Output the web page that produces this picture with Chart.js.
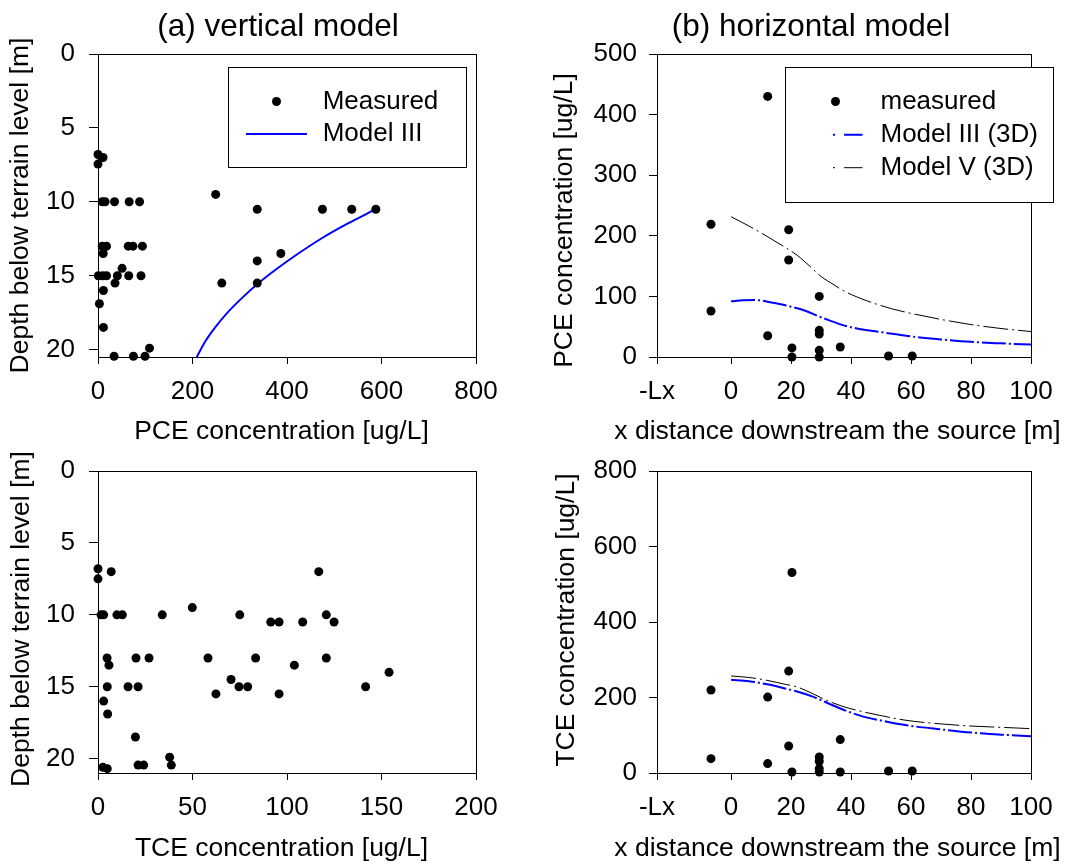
<!DOCTYPE html>
<html><head><meta charset="utf-8">
<script src="https://cdn.jsdelivr.net/npm/chart.js@4/dist/chart.umd.min.js"></script>
<style>
html,body{margin:0;padding:0;background:#fff;}
#wrap{position:relative;width:1069px;height:865px;overflow:hidden;background:#fff;}
.layer{position:absolute;left:0;top:0;}
.ptitle{position:absolute;font-family:"Liberation Sans",Arial,sans-serif;font-size:31.5px;color:#000;white-space:nowrap;transform:translate(-50%,-50%);line-height:1;}
</style></head><body>
<div id="wrap">
<canvas id="cTL" class="layer" width="1069" height="865"></canvas>
<canvas id="cTR" class="layer" width="1069" height="865"></canvas>
<canvas id="cBL" class="layer" width="1069" height="865"></canvas>
<canvas id="cBR" class="layer" width="1069" height="865"></canvas>
<div class="ptitle" style="left:278px;top:26px">(a) vertical model</div>
<div class="ptitle" style="left:811px;top:26px">(b) horizontal model</div>
</div>
<script>
// ---------- data ----------
// (a) vertical model, PCE
const pceVertConc  = [0, 0, 10.6, 9, 15, 35, 66, 88, 249, 337, 475, 537, 588, 9, 18, 64, 74, 94, 11, 387, 337, 51, 0.7, 10, 18, 41, 65, 91, 36, 262, 337, 11.5, 3, 11.5, 109, 34, 75, 99.5];
const pceVertDepth = [6.8, 7.45, 7.0, 10, 10, 10, 10, 10, 9.5, 10.5, 10.5, 10.5, 10.5, 13, 13, 13, 13, 13, 13.5, 13.5, 14, 14.5, 15, 15, 15, 15, 15, 15, 15.5, 15.5, 15.5, 16, 16.9, 18.5, 19.9, 20.45, 20.45, 20.45];
const pceModelIIIConc  = [209, 226, 248, 274, 305, 340, 380, 424, 472, 527, 588];
const pceModelIIIDepth = [20.5, 19.5, 18.5, 17.5, 16.5, 15.5, 14.5, 13.5, 12.5, 11.5, 10.5];
// (a) vertical model, TCE
const tceVertConc  = [0, 0, 7, 116.8, 1.6, 3, 10, 12.9, 34, 49.9, 75, 91.4, 95.8, 108.3, 120.8, 124.9, 4.8, 5.8, 20.1, 27, 58.2, 83.4, 120.8, 103.9, 154, 70.4, 4.9, 15.9, 21.2, 74.6, 79.2, 141.6, 62.4, 95.8, 3, 5.1, 19.8, 37.9, 38.8, 21.2, 24.2, 2.6, 4.9];
const tceVertDepth = [6.8, 7.5, 7.0, 7.0, 10, 10, 10, 10, 10, 9.5, 10, 10.5, 10.5, 10.5, 10, 10.5, 13, 13.5, 13, 13, 13, 13, 13, 13.5, 14, 14.5, 15, 15, 15, 15, 15, 15, 15.5, 15.5, 16, 16.9, 18.5, 19.9, 20.45, 20.45, 20.45, 20.6, 20.7];
// (b) horizontal model, PCE
const pceHorX = [-6.7, -6.7, 12.2, 12.2, 19.2, 19.2, 20.3, 20.3, 29.4, 29.4, 29.4, 29.4, 29.4, 36.4, 52.5, 60.4];
const pceHorY = [219, 76, 430, 35, 210, 160, 15, 0, 100, 44, 38, 11, 0, 16.5, 1.7, 1.7];
const pceM3X = [0, 4, 8, 14, 20, 25, 29, 33, 37, 42, 48, 55, 60, 70, 80, 90, 100];
const pceM3Y = [92, 93.5, 94, 89.5, 83, 76, 67.5, 60, 53, 47, 42.5, 37.5, 34, 29, 25, 22.5, 20.5];
const pceM5X = [0, 6, 12, 18, 22, 26, 30, 34, 38, 42, 48, 54, 60, 70, 80, 90, 100];
const pceM5Y = [231.5, 216, 199, 181, 168, 151, 133, 120, 108, 99, 88, 79, 72, 62, 53.5, 47, 42];
// (b) horizontal model, TCE
const tceHorX = [-6.7, -6.7, 12.2, 12.2, 19.2, 19.2, 20.3, 20.3, 29.4, 29.4, 29.4, 29.4, 36.4, 36.4, 52.5, 60.4];
const tceHorY = [220, 38, 201, 25, 270, 71.5, 531, 2.5, 42.4, 31, 11.6, 2.7, 88.5, 2.7, 5.3, 5.3];
const tceM3X = [0, 6, 12, 18, 22, 27, 32, 37, 43, 50, 58, 70, 81, 90, 100];
const tceM3Y = [247, 243, 235, 224, 216, 203, 186, 169, 152, 139, 127, 115.5, 106.5, 101.5, 97.5];
const tceM5X = [0, 6, 12, 18, 22, 27, 32, 37, 43, 50, 58, 70, 81, 90, 100];
const tceM5Y = [257, 253, 245.5, 235, 228, 211, 192, 177, 164, 152, 140, 130, 124, 121, 117.5];

// ticks
const depthTicks = [0, 5, 10, 15, 20];
const pceVertTicks = [0, 200, 400, 600, 800];
const tceVertTicks = [0, 50, 100, 150, 200];
const horXTicks = [-24.7, 0, 20, 40, 60, 80, 100];
const horXTickLabels = ['-Lx', '0', '20', '40', '60', '80', '100'];
const pceHorYTicks = [0, 100, 200, 300, 400, 500];
const tceHorYTicks = [0, 200, 400, 600, 800];

// ---------- helpers ----------
const FONT = '"Liberation Sans", Arial, sans-serif';
Chart.defaults.font.family = FONT;
Chart.defaults.color = '#000';
const BLUE = '#0000ff';
const TICK_FONT = 26;
const TITLE_FONT = 26.5;
const LEGEND_FONT = 26;

const pts = (xs, ys) => xs.map((x, i) => ({x: x, y: ys[i]}));

const framePlugin = {
  id: 'frame',
  beforeDatasetsDraw(chart) {
    const {ctx, chartArea: a} = chart;
    ctx.save();
    ctx.strokeStyle = '#000';
    ctx.lineWidth = 1;
    const l = Math.round(a.left) + 0.5, t = Math.round(a.top) + 0.5;
    const r = Math.round(a.right) + 0.5, b = Math.round(a.bottom) + 0.5;
    ctx.strokeRect(l, t, r - l, b - t);
    ctx.restore();
  }
};

// axis titles drawn as canvas text (no width squeezing)
const axisTitles = {
  id: 'axisTitles',
  afterDraw(chart, args, o) {
    if (!o || !o.x) return;
    const {ctx, chartArea: a} = chart;
    ctx.save();
    ctx.fillStyle = '#000';
    ctx.font = TITLE_FONT + 'px ' + FONT;
    ctx.textAlign = 'center';
    ctx.textBaseline = 'middle';
    ctx.fillText(o.x.text, (a.left + a.right) / 2 + o.x.dx, a.bottom + o.x.dy);
    ctx.translate(o.y.cx, (a.top + a.bottom) / 2 + o.y.dy);
    ctx.rotate(-Math.PI / 2);
    ctx.fillText(o.y.text, 0, 0);
    ctx.restore();
  }
};

const boxLegend = {
  id: 'boxLegend',
  afterDatasetsDraw(chart, args, o) {
    if (!o || !o.items) return;
    const {ctx, chartArea: a} = chart;
    ctx.save();
    const x1 = Math.round(a.left + o.box[0]) + 0.5, y1 = Math.round(a.top + o.box[1]) + 0.5;
    const x2 = Math.round(a.left + o.box[2]) + 0.5, y2 = Math.round(a.top + o.box[3]) + 0.5;
    ctx.fillStyle = '#fff';
    ctx.fillRect(x1, y1, x2 - x1, y2 - y1);
    ctx.strokeStyle = '#000';
    ctx.lineWidth = 1;
    ctx.strokeRect(x1, y1, x2 - x1, y2 - y1);
    ctx.font = LEGEND_FONT + 'px ' + FONT;
    ctx.textBaseline = 'middle';
    ctx.textAlign = 'left';
    o.items.forEach((di, i) => {
      const ds = chart.data.datasets[di];
      const y = a.top + o.rowY[i];
      if (ds.showLine) {
        ctx.save();
        ctx.strokeStyle = ds.borderColor;
        ctx.lineWidth = ds.borderWidth;
        const dash = ds.borderDash || [];
        ctx.beginPath();
        if (dash.length) {
          // dot, then dash (as in the original key)
          ctx.moveTo(a.left + o.sample[0], y);
          ctx.lineTo(a.left + o.sample[0] + 2, y);
          ctx.moveTo(a.left + o.sample[0] + 11, y);
          ctx.lineTo(a.left + o.sample[1], y);
        } else {
          ctx.moveTo(a.left + o.sample[0], y);
          ctx.lineTo(a.left + o.sample[1], y);
        }
        ctx.stroke();
        ctx.restore();
      } else {
        ctx.fillStyle = ds.backgroundColor;
        ctx.beginPath();
        ctx.arc(a.left + o.markerX, y, ds.pointRadius, 0, Math.PI * 2);
        ctx.fill();
      }
      ctx.fillStyle = '#000';
      ctx.fillText(ds.label, a.left + o.textX, y);
    });
    ctx.restore();
  }
};

function makePanel(id, p) {
  const W = 1069, H = 865;
  const xs = {
    type: 'linear', position: 'bottom', min: p.x.min, max: p.x.max,
    afterBuildTicks: s => { s.ticks = p.x.ticks.map(v => ({value: v})); },
    afterFit: s => { s.height = p.xHeight; },
    ticks: {
      autoSkip: false, maxRotation: 0, minRotation: 0, padding: 12,
      font: {size: TICK_FONT}, color: '#000',
      callback: (v, i) => p.x.labels ? p.x.labels[i] : String(p.x.ticks[i])
    },
    grid: {display: true, drawOnChartArea: false, drawTicks: true, tickLength: 7, color: '#000', lineWidth: 1},
    border: {display: true, color: '#000', width: 1},
    title: {display: false, text: p.x.title}
  };
  const ys = {
    type: 'linear', position: 'left', min: p.y.min, max: p.y.max, reverse: !!p.y.reverse,
    afterBuildTicks: s => { s.ticks = p.y.ticks.map(v => ({value: v})); },
    afterFit: s => { s.width = p.yWidth; },
    ticks: {
      autoSkip: false, padding: p.y.tickPad, font: {size: TICK_FONT}, color: '#000',
      callback: (v, i) => String(p.y.ticks[i])
    },
    grid: {display: true, drawOnChartArea: false, drawTicks: true, tickLength: p.y.tickLen, color: '#000', lineWidth: 1},
    border: {display: true, color: '#000', width: 1},
    title: {display: false, text: p.y.title}
  };
  return new Chart(document.getElementById(id), {
    type: 'scatter',
    data: {datasets: p.datasets},
    options: {
      responsive: false, animation: false, devicePixelRatio: 1,
      layout: {padding: {left: p.L - p.yWidth, top: p.T, right: W - p.R, bottom: H - (p.B + p.xHeight)}},
      scales: {x: xs, y: ys},
      plugins: {
        legend: {display: false}, tooltip: {enabled: false},
        boxLegend: p.legend || {},
        axisTitles: {
          x: {text: p.x.title, dx: p.x.titleDx, dy: p.x.titleDy},
          y: {text: p.y.title, cx: p.y.titleCx, dy: p.y.titleDy}
        }
      },
      events: []
    },
    plugins: [framePlugin, boxLegend, axisTitles]
  });
}

const measuredStyle = {showLine: false, pointRadius: 4.5, pointStyle: 'circle', backgroundColor: '#000', borderColor: '#000', borderWidth: 0, clip: false};
const M3DASH = [24, 3, 2, 3];
const M5DASH = [25, 4, 2, 4];
const lineBase = {showLine: true, pointRadius: 0, cubicInterpolationMode: 'monotone', clip: false};

// (a) PCE
makePanel('cTL', {
  L: 98, T: 54, R: 476, B: 357, yWidth: 98, xHeight: 93,
  x: {min: 0, max: 800, ticks: pceVertTicks, title: 'PCE concentration [ug/L]', titleDx: -5.5, titleDy: 75},
  y: {min: 0, max: 20.5, reverse: true, ticks: depthTicks, title: 'Depth below terrain level [m]', titleCx: 21, titleDy: 0, tickPad: 14, tickLen: 9},
  datasets: [
    Object.assign({label: 'Measured', data: pts(pceVertConc, pceVertDepth)}, measuredStyle),
    Object.assign({label: 'Model III', data: pts(pceModelIIIConc, pceModelIIIDepth), borderColor: BLUE, backgroundColor: BLUE, borderWidth: 2}, lineBase)
  ],
  legend: {box: [130, 13, 368, 113], rowY: [47.5, 80], sample: [148, 209], markerX: 178.5, textX: 224.7, items: [0, 1]}
});

// (b) PCE
makePanel('cTR', {
  L: 657, T: 54, R: 1031, B: 357, yWidth: 117, xHeight: 93,
  x: {min: -24.7, max: 100, ticks: horXTicks, labels: horXTickLabels, title: 'x distance downstream the source [m]', titleDx: -6.5, titleDy: 75},
  y: {min: 0, max: 500, ticks: pceHorYTicks, title: 'PCE concentration [ug/L]', titleCx: 565, titleDy: 15, tickPad: 12, tickLen: 8},
  datasets: [
    Object.assign({label: 'measured', data: pts(pceHorX, pceHorY)}, measuredStyle),
    Object.assign({label: 'Model III (3D)', data: pts(pceM3X, pceM3Y), borderColor: BLUE, backgroundColor: BLUE, borderWidth: 2, borderDash: M3DASH}, lineBase),
    Object.assign({label: 'Model V (3D)', data: pts(pceM5X, pceM5Y), borderColor: '#000', backgroundColor: '#000', borderWidth: 1, borderDash: M5DASH}, lineBase)
  ],
  legend: {box: [128, 13, 396, 147.5], rowY: [47.5, 80.7, 113.7], sample: [176, 205.5], markerX: 178.5, textX: 223.5, items: [0, 1, 2]}
});

// (a) TCE
makePanel('cBL', {
  L: 98, T: 471, R: 476, B: 773, yWidth: 98, xHeight: 92,
  x: {min: 0, max: 200, ticks: tceVertTicks, title: 'TCE concentration [ug/L]', titleDx: -5.5, titleDy: 76},
  y: {min: 0, max: 21, reverse: true, ticks: depthTicks, title: 'Depth below terrain level [m]', titleCx: 21.3, titleDy: -3, tickPad: 14, tickLen: 9},
  datasets: [
    Object.assign({label: 'Measured', data: pts(tceVertConc, tceVertDepth)}, measuredStyle)
  ]
});

// (b) TCE
makePanel('cBR', {
  L: 657, T: 471, R: 1031, B: 773, yWidth: 117, xHeight: 92,
  x: {min: -24.7, max: 100, ticks: horXTicks, labels: horXTickLabels, title: 'x distance downstream the source [m]', titleDx: -6.5, titleDy: 76},
  y: {min: 0, max: 800, ticks: tceHorYTicks, title: 'TCE concentration [ug/L]', titleCx: 566.7, titleDy: -2, tickPad: 12, tickLen: 8},
  datasets: [
    Object.assign({label: 'measured', data: pts(tceHorX, tceHorY)}, measuredStyle),
    Object.assign({label: 'Model III (3D)', data: pts(tceM3X, tceM3Y), borderColor: BLUE, backgroundColor: BLUE, borderWidth: 2, borderDash: M3DASH}, lineBase),
    Object.assign({label: 'Model V (3D)', data: pts(tceM5X, tceM5Y), borderColor: '#000', backgroundColor: '#000', borderWidth: 1, borderDash: M5DASH}, lineBase)
  ]
});
</script>
</body></html>
